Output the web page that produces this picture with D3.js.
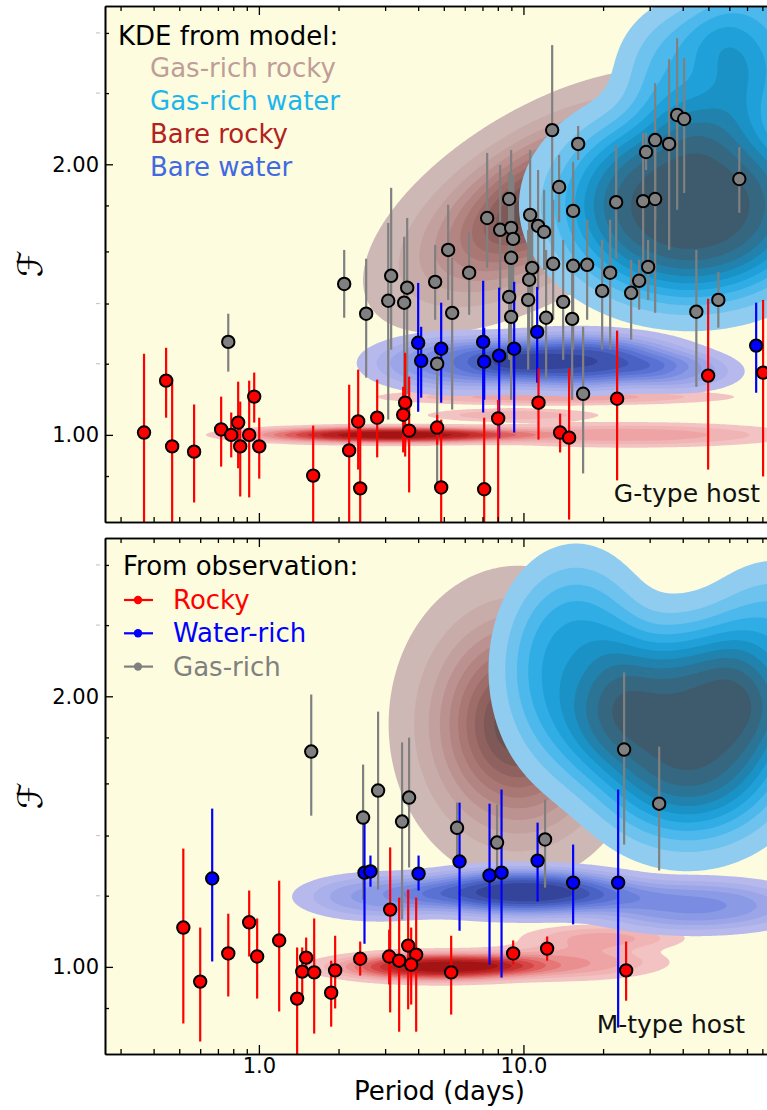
<!DOCTYPE html>
<html lang="en">
<head>
<meta charset="UTF-8">
<title>F versus period, G- and M-type hosts</title>
<script src="https://cdn.jsdelivr.net/npm/d3@7"></script>
<style>
  body { margin: 0; background: #fff; }
  svg { display: block; font-family: "DejaVu Sans", sans-serif; }
</style>
</head>
<body>
<div id="chart"></div>
<script>
// ---------- data: [period (days), F, F low, F high] ----------
const gRocky = [
  [0.368, 1.006, 0.76, 1.231], [0.446, 1.149, 1.045, 1.25], [0.470, 0.971, 0.76, 1.155],
  [0.569, 0.958, 0.841, 1.081], [0.720, 1.014, 0.922, 1.103], [0.786, 1.000, 0.944, 1.059],
  [0.835, 1.032, 0.918, 1.146], [0.850, 0.971, 0.854, 1.089], [0.919, 1.000, 0.852, 1.149],
  [0.960, 1.103, 1.032, 1.173], [1.003, 0.971, 0.894, 1.045], [1.604, 0.901, 0.76, 1.024],
  [2.194, 0.961, 0.76, 1.137], [2.373, 1.035, 0.915, 1.182], [2.415, 0.872, 0.76, 1.040],
  [2.800, 1.045, 0.944, 1.152], [3.572, 1.086, 0.946, 1.234], [3.511, 1.053, 0.956, 1.131],
  [3.698, 1.011, 0.863, 1.161], [4.718, 1.019, 0.975, 1.053], [4.887, 0.874, 0.76, 1.040],
  [7.105, 0.870, 0.76, 1.045], [8.024, 1.043, 0.80, 1.094], [11.40, 1.086, 0.988, 1.185],
  [13.76, 1.006, 0.956, 1.056], [14.88, 0.993, 0.805, 1.185], [22.60, 1.097, 0.890, 1.306],
  [49.9, 1.164, 0.915, 1.417], [80.5, 1.173, 0.899, 1.413]
];
const gWater = [
  [4.000, 1.266, 1.061, 1.476], [4.106, 1.209, 1.100, 1.319], [4.887, 1.247, 1.086, 1.403],
  [7.043, 1.269, 1.059, 1.484], [7.105, 1.206, 1.094, 1.316], [8.094, 1.225, 0.991, 1.458],
  [9.224, 1.247, 1.006, 1.480], [11.27, 1.302, 1.143, 1.461], [75.8, 1.257, 1.114, 1.403]
];
const gGas = [
  [0.766, 1.269, 1.176, 1.364], [2.101, 1.472, 1.350, 1.606], [2.544, 1.364, 1.158, 1.570],
  [3.162, 1.503, 1.244, 1.883], [3.082, 1.410, 1.040, 1.721], [3.635, 1.458, 1.109, 1.743],
  [3.541, 1.403, 0.988, 1.661], [4.637, 1.480, 1.343, 1.627], [5.193, 1.606, 1.413, 1.803],
  [5.377, 1.367, 1.067, 1.574], [6.233, 1.515, 1.360, 1.682], [4.718, 1.200, 0.885, 1.244],
  [7.292, 1.743, 1.534, 2.059], [8.164, 1.691, 1.450, 1.996], [8.830, 1.830, 1.570, 1.961],
  [8.985, 1.699, 1.413, 2.075], [9.144, 1.652, 1.413, 1.946], [8.985, 1.574, 1.343, 1.826],
  [8.830, 1.424, 1.212, 1.648], [8.985, 1.353, 1.094, 1.526], [10.60, 1.757, 1.413, 2.075],
  [11.36, 1.708, 1.450, 1.971], [11.97, 1.682, 1.526, 1.873], [10.79, 1.534, 1.309, 1.780],
  [10.51, 1.488, 1.244, 1.735], [10.42, 1.413, 1.182, 1.690], [12.18, 1.350, 1.152, 1.606],
  [12.95, 1.550, 1.343, 1.826], [15.41, 1.542, 1.244, 1.826], [17.41, 1.546, 1.343, 1.735],
  [14.13, 1.406, 1.212, 1.648], [15.28, 1.346, 1.094, 1.566], [19.84, 1.446, 1.244, 1.648],
  [21.27, 1.515, 1.244, 1.735], [25.53, 1.439, 1.276, 1.566], [27.37, 1.484, 1.378, 1.566],
  [29.60, 1.538, 1.413, 1.648], [16.81, 1.111, 0.906, 1.319], [45.03, 1.371, 1.131, 1.606],
  [54.53, 1.413, 1.316, 1.518], [65.46, 1.926, 1.766, 2.090], [12.84, 2.183, 1.546, 2.714],
  [16.10, 2.107, 2.022, 2.206], [13.64, 1.887, 1.725, 2.048], [15.41, 1.775, 1.546, 2.012],
  [22.41, 1.815, 1.570, 2.101], [28.34, 1.820, 1.488, 2.167], [31.46, 1.830, 1.367, 2.075],
  [29.08, 2.064, 1.971, 2.167], [31.46, 2.128, 1.734, 2.462], [35.53, 2.107, 1.606, 2.618],
  [38.10, 2.269, 1.780, 2.763], [40.50, 2.246, 1.858, 2.625]
];
const mRocky = [
  [0.518, 1.106, 0.865, 1.354], [0.600, 0.963, 0.826, 1.106], [0.766, 1.035, 0.927, 1.146],
  [0.919, 1.121, 1.027, 1.216], [0.985, 1.027, 0.922, 1.132], [1.193, 1.070, 0.892, 1.247],
  [1.395, 0.922, 0.78, 1.051], [1.509, 1.024, 0.985, 1.078], [1.458, 0.988, 0.927, 1.051],
  [1.618, 0.986, 0.843, 1.132], [1.876, 0.936, 0.858, 1.016], [1.942, 0.991, 0.899, 1.083],
  [2.415, 1.021, 0.978, 1.067], [3.135, 1.158, 0.890, 1.358], [3.108, 1.027, 0.956, 1.100],
  [3.390, 1.016, 0.847, 1.194], [3.667, 1.056, 0.897, 1.219], [3.931, 1.032, 0.847, 1.194],
  [3.764, 1.006, 0.908, 1.106], [5.331, 0.986, 0.885, 1.083], [9.144, 1.035, 1.006, 1.070],
  [12.29, 1.048, 1.016, 1.081], [24.44, 0.991, 0.917, 1.067]
];
const mWater = [
  [0.666, 1.254, 1.014, 1.500], [2.507, 1.273, 1.061, 1.466], [2.641, 1.277, 1.228, 1.330],
  [4.014, 1.270, 1.216, 1.330], [5.734, 1.310, 1.097, 1.523], [7.444, 1.264, 1.006, 1.519],
  [8.264, 1.273, 0.973, 1.575], [11.31, 1.313, 1.182, 1.447], [15.41, 1.241, 1.115, 1.368],
  [22.80, 1.241, 0.856, 1.575]
];
const mGas = [
  [1.577, 1.736, 1.473, 2.009], [2.477, 1.466, 1.188, 1.679], [2.822, 1.571, 1.219, 1.923],
  [3.696, 1.543, 1.290, 1.799], [3.477, 1.451, 1.129, 1.777], [5.611, 1.428, 1.307, 1.523],
  [7.948, 1.375, 1.276, 1.515], [12.07, 1.386, 1.225, 1.535], [24.02, 1.745, 1.368, 2.126],
  [32.58, 1.519, 1.280, 1.758]
];

// ---------- model KDE shapes: [period centre, F centre, spread in dex (period), spread in dex (F), correlation, weight] ----------
const kdeGasRockyG = [[12.0, 1.82, 0.28, 0.06, 0.6, 1]];
const kdeGasWaterG = [[42.7, 1.80, 0.37, 0.08, 0, 1], [47.9, 2.51, 0.22, 0.06, 0, 0.35],
                      [80.0, 2.75, 0.20, 0.07, 0, 0.25]];
const kdeBareRockyG = [[3.16, 1.0, 0.37, 0.0065, 0, 1], [25.1, 1.0, 0.40, 0.009, 0, 0.3],
                       [13.2, 1.102, 0.43, 0.006, 0, 0.3], [9.12, 1.052, 0.22, 0.005, 0, 0.22]];
const kdeBareWaterG = [[15.8, 1.208, 0.28, 0.021, 0, 1], [5.62, 1.202, 0.22, 0.021, 0, 0.55],
                       [39.8, 1.175, 0.15, 0.015, 0, 0.3]];
const kdeGasRockyM = [[9.55, 1.862, 0.20, 0.072, 0, 1]];
const kdeGasWaterM = [[41.7, 1.82, 0.29, 0.085, 0, 1], [15.8, 2.14, 0.20, 0.085, 0, 0.5],
                      [89.1, 2.20, 0.20, 0.07, 0, 0.35]];
const kdeBareRockyM = [[4.79, 1.0, 0.27, 0.011, 0, 1], [14.1, 1.012, 0.25, 0.013, 0, 0.35],
                       [20.0, 1.076, 0.20, 0.010, 0, 0.28]];
const kdeBareWaterM = [[10.0, 1.211, 0.30, 0.018, 0, 1], [44.7, 1.17, 0.28, 0.02, 0, 0.45],
                       [2.82, 1.197, 0.20, 0.017, 0, 0.35]];

const xTicksMajor = [1, 10];
const xTickLabels = ["1.0", "10.0"];
const xTicksMinor = [0.3, 0.4, 0.5, 0.6, 0.7, 0.8, 0.9, 2, 3, 4, 5, 6, 7, 8, 9, 20, 30, 40, 50, 60, 70, 80, 90];
const yTicksMajor = [1, 2];
const yTickLabels = ["1.00", "2.00"];
const yTicksMinor = [0.9, 1.2, 1.4, 1.6, 1.8, 2.4, 2.8];
const yFaintMarks = [1.2, 1.4, 2.4, 2.8];

const kdeLegend = [
  ["Gas-rich rocky", "#bf9d98"], ["Gas-rich water", "#1cb6ee"],
  ["Bare rocky", "#b22222"], ["Bare water", "#4169e1"]
];
const obsLegend = [["Rocky", "#ff0000"], ["Water-rich", "#0000ff"], ["Gas-rich", "#808080"]];

// ---------- layout ----------
const W = 767, H = 1110;
const left = 105, right = 788;
const bg = "#fdfcde";
const x = d3.scaleLog().domain([0.262, 100]).range([left, right]);

const palettes = {
  gasRocky: d3.interpolateRgbBasis(["#cdb8b6", "#c4a3a0", "#b78a87", "#a67370", "#8e5f5c", "#6b5250"]),
  gasWater: d3.interpolateRgbBasis(["#90ccef", "#40b6ee", "#0d9bd6", "#2a7598", "#3e5b6e"]),
  bareRocky: d3.interpolateRgbBasis(["#f3c2c2", "#eea4a4", "#e46a6a", "#d03030", "#a41414"]),
  bareWater: d3.interpolateRgbBasis(["#b7b9ec", "#9aa4e8", "#6f86e0", "#4d66cf", "#34449a"])
};

const panels = [
  { top: 6, bottom: 522, host: "G-type host", hostX: 760, hostY: 502,
    kdes: [[kdeGasRockyG, 1.0, "gasRocky"], [kdeGasWaterG, 1.6, "gasWater"],
           [kdeBareRockyG, 1.4, "bareRocky"], [kdeBareWaterG, 1.4, "bareWater"]],
    rocky: gRocky, water: gWater, gas: gGas, xLabels: false },
  { top: 538, bottom: 1054, host: "M-type host", hostX: 745, hostY: 1033,
    kdes: [[kdeGasRockyM, 1.0, "gasRocky"], [kdeGasWaterM, 1.5, "gasWater"],
           [kdeBareRockyM, 1.4, "bareRocky"], [kdeBareWaterM, 1.4, "bareWater"]],
    rocky: mRocky, water: mWater, gas: mGas, xLabels: true }
];

const svg = d3.select("#chart").append("svg")
  .attr("width", W).attr("height", H);

function density(comps, p, u, v) {
  let s = 0;
  for (const [P0, F0, su, sv, rho, w] of comps) {
    const a = (u - Math.log10(P0)) / su, b = (v - Math.log10(F0)) / sv;
    const q = (a * a - 2 * rho * a * b + b * b) / (1 - rho * rho);
    s += w * Math.exp(-0.5 * Math.pow(q, p));
  }
  return s;
}

panels.forEach((pn, pi) => {
  const y = d3.scaleLog().domain([0.8, 3.0]).range([pn.bottom, pn.top]);
  const g = svg.append("g");
  const clipId = "clip" + pi;
  svg.append("clipPath").attr("id", clipId)
    .append("rect").attr("x", left).attr("y", pn.top)
    .attr("width", right - left).attr("height", pn.bottom - pn.top);

  g.append("rect").attr("x", left).attr("y", pn.top)
    .attr("width", right - left).attr("height", pn.bottom - pn.top).attr("fill", bg);

  const plot = g.append("g").attr("clip-path", `url(#${clipId})`);

  // KDE filled contours
  const nx = 340, ny = 280;
  const u0 = Math.log10(x.domain()[0]), u1 = Math.log10(x.domain()[1]);
  const v0 = Math.log10(y.domain()[0]), v1 = Math.log10(y.domain()[1]);
  const gu = d3.scaleLinear().domain([0, nx]).range([u0, u1]);
  const gv = d3.scaleLinear().domain([0, ny]).range([v1, v0]);
  const proj = d3.geoTransform({
    point(px, py) { this.stream.point(x(Math.pow(10, gu(px))), y(Math.pow(10, gv(py)))); }
  });
  const path = d3.geoPath(proj);

  pn.kdes.forEach(([comps, p, pal]) => {
    const values = new Float64Array(nx * ny);
    for (let j = 0; j < ny; j++) {
      const v = gv(j + 0.5);
      for (let i = 0; i < nx; i++) values[j * nx + i] = density(comps, p, gu(i + 0.5), v);
    }
    const mx = d3.max(values);
    const levels = d3.range(10).map(k => (0.05 + k * 0.095) * mx);
    const cs = d3.contours().size([nx, ny]).thresholds(levels)(values);
    plot.append("g").selectAll("path").data(cs).join("path")
      .attr("d", path)
      .attr("fill", (d, k) => palettes[pal](k / 9))
      .attr("stroke", "none");
  });

  // error bars and markers
  const groups = [[pn.gas, "#808080"], [pn.water, "#0000ff"], [pn.rocky, "#ff0000"]];
  groups.forEach(([data, col]) => {
    plot.append("g").selectAll("line").data(data).join("line")
      .attr("x1", d => x(d[0])).attr("x2", d => x(d[0]))
      .attr("y1", d => y(d[2])).attr("y2", d => y(d[3]))
      .attr("stroke", col).attr("stroke-width", 2.2);
  });
  groups.forEach(([data, col]) => {
    plot.append("g").selectAll("circle").data(data).join("circle")
      .attr("cx", d => x(d[0])).attr("cy", d => y(d[1])).attr("r", 6.2)
      .attr("fill", col).attr("stroke", "#000").attr("stroke-width", 2);
  });

  // axes (ticks pointing inward)
  const bottomMaj = d3.axisBottom(x).tickValues(xTicksMajor).tickSize(-9).tickSizeOuter(0).tickPadding(4)
    .tickFormat((d, i) => pn.xLabels ? xTickLabels[i] : "");
  const bottomMin = d3.axisBottom(x).tickValues(xTicksMinor).tickSize(-5).tickSizeOuter(0).tickFormat("");
  const topMaj = d3.axisTop(x).tickValues(xTicksMajor).tickSize(-9).tickSizeOuter(0).tickFormat("");
  const topMin = d3.axisTop(x).tickValues(xTicksMinor).tickSize(-5).tickSizeOuter(0).tickFormat("");
  const leftMaj = d3.axisLeft(y).tickValues(yTicksMajor).tickSize(-8).tickSizeOuter(0).tickPadding(6)
    .tickFormat((d, i) => yTickLabels[i]);
  const leftMin = d3.axisLeft(y).tickValues(yTicksMinor).tickSize(-4).tickSizeOuter(0).tickFormat("");

  const ax = g.append("g");
  [[bottomMin, pn.bottom], [bottomMaj, pn.bottom], [topMin, pn.top], [topMaj, pn.top]]
    .forEach(([a, yy]) => ax.append("g").attr("transform", `translate(0,${yy})`).call(a));
  [leftMin, leftMaj].forEach(a => ax.append("g").attr("transform", `translate(${left},0)`).call(a));
  ax.selectAll(".domain").attr("stroke", "#000").attr("stroke-width", 1.6);
  ax.selectAll(".tick line").attr("stroke", "#000").attr("stroke-width", 1.3);
  ax.selectAll(".tick text").attr("fill", "#000").attr("font-size", 21)
    .attr("font-family", "DejaVu Sans, sans-serif");

  g.append("g").selectAll("line").data(yFaintMarks).join("line")
    .attr("x1", 96).attr("x2", 100).attr("y1", d => y(d)).attr("y2", d => y(d))
    .attr("stroke", "#c8c8c8").attr("stroke-width", 1.2);

  // y label
  g.append("text")
    .attr("transform", `translate(30,${(pn.top + pn.bottom) / 2}) rotate(-90)`)
    .attr("text-anchor", "middle").attr("dy", "0.35em")
    .attr("font-size", 34).attr("fill", "#000").text("\u2131");

  // host label
  g.append("text").attr("x", pn.hostX).attr("y", pn.hostY)
    .attr("text-anchor", "end").attr("font-size", 25).attr("fill", "#111").text(pn.host);
});

// legend, top panel
const lt = svg.append("g").attr("font-size", 26);
lt.append("text").attr("x", 118).attr("y", 45).attr("fill", "#000").text("KDE from model:");
lt.selectAll("text.item").data(kdeLegend).join("text").attr("class", "item")
  .attr("x", 150).attr("y", (d, i) => 77 + i * 33).attr("fill", d => d[1]).text(d => d[0]);

// legend, bottom panel
const lb = svg.append("g").attr("font-size", 26);
lb.append("text").attr("x", 123).attr("y", 575).attr("fill", "#000").text("From observation:");
const items = lb.selectAll("g.item").data(obsLegend).join("g").attr("class", "item")
  .attr("transform", (d, i) => `translate(0,${600 + i * 33.3})`);
items.append("line").attr("x1", 124).attr("x2", 153).attr("stroke", d => d[1]).attr("stroke-width", 2.2);
items.append("circle").attr("cx", 138).attr("r", 4.2).attr("fill", d => d[1]);
items.append("text").attr("x", 173).attr("y", 9).attr("fill", d => d[1]).text(d => d[0]);

// x label
svg.append("text").attr("x", (left + right) / 2 - 7).attr("y", 1100)
  .attr("text-anchor", "middle").attr("font-size", 26).attr("fill", "#000").text("Period (days)");
</script>
</body>
</html>
